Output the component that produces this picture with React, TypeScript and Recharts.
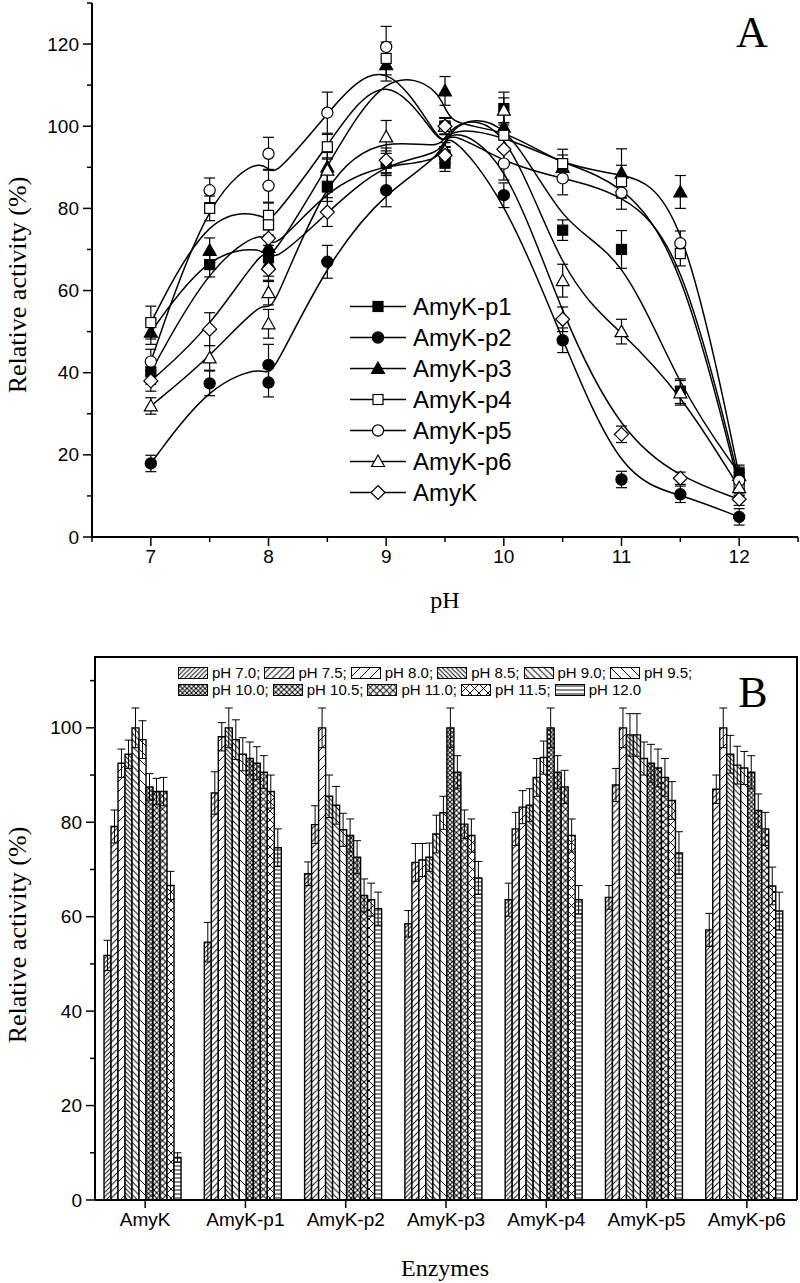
import React from "react";
import { Bar, BarChart, ComposedChart, ErrorBar, Line, Scatter, XAxis, YAxis } from "recharts";

const SANS = "'Liberation Sans', Arial, sans-serif";
const SERIF = "'Liberation Serif', 'Times New Roman', serif";

// ---------- panel A: pH profiles (two buffers overlap at pH 8.0 and 9.5)
const PH_POINTS = [7, 7.5, 8, 8, 8.5, 9, 9.5, 9.5, 10, 10.5, 11, 11.5, 12];

const P1_ACT = [40.2, 66.3, 76.0, 68.0, 85.2, 91.0, 91.0, 100, 104.3, 74.7, 70.0, 35.5, 15.5];
const P1_ERR = [3.0, 3.0, 3.0, 3.0, 3.5, 3.0, 2.0, 2.0, 4.0, 2.5, 4.6, 3.0, 2.0];
const P2_ACT = [17.9, 37.4, 41.9, 37.6, 67.0, 84.4, 93.0, 100, 83.2, 47.9, 14.0, 10.4, 4.9];
const P2_ERR = [2.0, 3.0, 5.0, 3.5, 4.0, 4.0, 2.0, 2.0, 3.0, 3.0, 2.0, 2.0, 2.0];
const P3_ACT = [49.9, 69.8, 70.5, 66.5, 90.1, 115.0, 108.6, 100, 99.8, 90.0, 88.6, 84.0, 15.0];
const P3_ERR = [3.0, 3.0, 3.0, 3.0, 3.5, 4.0, 3.5, 2.0, 3.0, 3.0, 5.9, 4.0, 2.0];
const P4_ACT = [52.2, 80.0, 78.3, 76.0, 95.0, 116.5, 93.0, 100, 97.8, 90.9, 86.5, 69.0, 12.2];
const P4_ERR = [4.0, 3.0, 3.0, 3.0, 3.0, 4.0, 2.0, 2.0, 3.0, 3.5, 4.0, 3.0, 2.0];
const P5_ACT = [42.7, 84.4, 93.3, 85.5, 103.3, 119.3, 93.0, 100, 90.9, 87.3, 83.8, 71.5, 13.7];
const P5_ERR = [3.0, 3.0, 4.0, 4.0, 5.0, 5.0, 2.0, 2.0, 4.0, 4.0, 4.0, 3.0, 2.0];
const P6_ACT = [31.9, 43.6, 59.5, 51.9, 89.3, 97.4, 94.0, 100, 103.9, 62.4, 50.0, 35.1, 12.0];
const P6_ERR = [2.0, 3.0, 3.0, 3.5, 3.0, 4.0, 2.0, 2.0, 3.0, 4.0, 3.0, 3.0, 2.0];
const WT_ACT = [38.0, 50.6, 72.7, 65.2, 79.1, 91.7, 92.9, 100, 94.4, 53.0, 25.0, 14.3, 9.2];
const WT_ERR = [2.5, 4.0, 3.0, 3.0, 3.5, 3.0, 2.0, 2.0, 3.0, 3.0, 2.0, 1.5, 1.5];

const A_X_TICKS = [6.5, 7, 7.5, 8, 8.5, 9, 9.5, 10, 10.5, 11, 11.5, 12, 12.5];
const A_Y_TICKS = [0, 10, 20, 30, 40, 50, 60, 70, 80, 90, 100, 110, 120, 130];

type MarkerKind = "square" | "circle" | "triangle" | "diamond";

const SERIES_A: { name: string; act: number[]; err: number[]; kind: MarkerKind; filled: boolean }[] = [
	{ name: "AmyK-p1", act: P1_ACT, err: P1_ERR, kind: "square", filled: true },
	{ name: "AmyK-p2", act: P2_ACT, err: P2_ERR, kind: "circle", filled: true },
	{ name: "AmyK-p3", act: P3_ACT, err: P3_ERR, kind: "triangle", filled: true },
	{ name: "AmyK-p4", act: P4_ACT, err: P4_ERR, kind: "square", filled: false },
	{ name: "AmyK-p5", act: P5_ACT, err: P5_ERR, kind: "circle", filled: false },
	{ name: "AmyK-p6", act: P6_ACT, err: P6_ERR, kind: "triangle", filled: false },
	{ name: "AmyK", act: WT_ACT, err: WT_ERR, kind: "diamond", filled: false },
];

// ---------- panel B: activity per enzyme, grouped by pH
const ENZYMES = ["AmyK", "AmyK-p1", "AmyK-p2", "AmyK-p3", "AmyK-p4", "AmyK-p5", "AmyK-p6"];
const PH_LABELS = ["pH 7.0", "pH 7.5", "pH 8.0", "pH 8.5", "pH 9.0", "pH 9.5", "pH 10.0", "pH 10.5", "pH 11.0", "pH 11.5", "pH 12.0"];

const PH70 = [51.8, 54.6, 69.1, 58.5, 63.6, 64.1, 57.2];
const PH75 = [79.1, 86.2, 79.5, 71.5, 78.6, 87.9, 87.0];
const PH80 = [92.5, 98.1, 100, 72.0, 83.2, 100, 100];
const PH85 = [94.4, 100, 85.5, 72.6, 83.6, 98.5, 94.4];
const PH90 = [100, 97.5, 83.6, 77.5, 89.5, 98.5, 92.1];
const PH95 = [97.5, 94.4, 78.4, 82.0, 93.7, 93.5, 91.5];
const PH100 = [87.5, 93.5, 77.2, 100, 100, 92.5, 90.6];
const PH105 = [86.5, 92.5, 72.6, 90.6, 90.6, 91.5, 82.5];
const PH110 = [86.5, 90.6, 64.5, 79.6, 87.5, 89.5, 78.6];
const PH115 = [66.6, 86.5, 63.6, 77.2, 77.2, 84.6, 66.5];
const PH120 = [9.0, 74.6, 61.7, 68.2, 63.6, 73.5, 61.2];

const PH70_ERR = [3.2, 4.2, 2.5, 2.8, 3.5, 2.5, 3.5];
const PH75_ERR = [3.5, 4.5, 4.0, 4.0, 3.5, 3.5, 3.0];
const PH80_ERR = [3.0, 3.0, 4.2, 3.5, 3.5, 4.2, 4.2];
const PH85_ERR = [3.0, 4.2, 4.5, 3.0, 3.5, 4.5, 4.0];
const PH90_ERR = [4.2, 4.2, 4.0, 4.0, 4.0, 4.5, 4.0];
const PH95_ERR = [4.0, 3.5, 3.5, 3.5, 3.5, 3.5, 3.5];
const PH100_ERR = [2.8, 3.5, 3.5, 4.2, 4.2, 4.0, 3.5];
const PH105_ERR = [2.8, 3.5, 3.5, 3.5, 3.5, 4.0, 3.5];
const PH110_ERR = [3.0, 3.5, 3.5, 3.0, 3.5, 4.0, 3.5];
const PH115_ERR = [3.0, 3.5, 3.5, 3.5, 3.5, 4.0, 4.0];
const PH120_ERR = [1.0, 4.0, 3.5, 3.5, 3.0, 4.5, 4.0];

const B_Y_TICKS = [0, 10, 20, 30, 40, 50, 60, 70, 80, 90, 100, 110];

const SERIES_B = [
	{ values: PH70, errors: PH70_ERR, pattern: "pd1" },
	{ values: PH75, errors: PH75_ERR, pattern: "pd2" },
	{ values: PH80, errors: PH80_ERR, pattern: "pd3" },
	{ values: PH85, errors: PH85_ERR, pattern: "pb1" },
	{ values: PH90, errors: PH90_ERR, pattern: "pb2" },
	{ values: PH95, errors: PH95_ERR, pattern: "pb3" },
	{ values: PH100, errors: PH100_ERR, pattern: "px1" },
	{ values: PH105, errors: PH105_ERR, pattern: "px2" },
	{ values: PH110, errors: PH110_ERR, pattern: "px3" },
	{ values: PH115, errors: PH115_ERR, pattern: "px4" },
	{ values: PH120, errors: PH120_ERR, pattern: "ph" },
];

const barData = ENZYMES.map((name, i) => {
	const row: Record<string, string | number> = { name };
	SERIES_B.forEach((s, j) => {
		row[`v${j}`] = s.values[i];
		row[`e${j}`] = s.errors[i];
	});
	return row;
});

// hatch fills, roughly like the Origin ones
function Hatch({ id, gap, fwd, back, horiz }: { id: string; gap: number; fwd?: boolean; back?: boolean; horiz?: boolean }) {
	const g = gap;
	const sw = 0.95;
	return (
		<pattern id={id} patternUnits="userSpaceOnUse" width={g} height={g}>
			<rect width={g} height={g} fill="#fff" />
			{fwd && <path d={`M0,${g} L${g},0 M-1,1 L1,-1 M${g - 1},${g + 1} L${g + 1},${g - 1}`} stroke="#000" strokeWidth={sw} />}
			{back && <path d={`M0,0 L${g},${g} M-1,${g - 1} L1,${g + 1} M${g - 1},-1 L${g + 1},1`} stroke="#000" strokeWidth={sw} />}
			{horiz && <path d={`M0,${g / 2} L${g},${g / 2}`} stroke="#000" strokeWidth={sw} />}
		</pattern>
	);
}

function PatternDefs() {
	return (
		<svg width={0} height={0} style={{ position: "absolute" }}>
			<defs>
				<Hatch id="pd1" gap={4.5} fwd />
				<Hatch id="pd2" gap={6.5} fwd />
				<Hatch id="pd3" gap={10} fwd />
				<Hatch id="pb1" gap={4.5} back />
				<Hatch id="pb2" gap={6.5} back />
				<Hatch id="pb3" gap={10} back />
				<Hatch id="px1" gap={4.5} fwd back />
				<Hatch id="px2" gap={5.5} fwd back />
				<Hatch id="px3" gap={6.5} fwd back />
				<Hatch id="px4" gap={9} fwd back />
				<Hatch id="ph" gap={4} horiz />
			</defs>
		</svg>
	);
}

function Marker({ kind, filled, cx, cy }: { kind: MarkerKind; filled: boolean; cx: number; cy: number }) {
	const style = { fill: filled ? "#000" : "#fff", stroke: "#000", strokeWidth: 1.2 };
	if (kind === "square") return <rect x={cx - 5} y={cy - 5} width={10} height={10} {...style} />;
	if (kind === "circle") return <circle cx={cx} cy={cy} r={5.6} {...style} />;
	if (kind === "triangle")
		return <polygon points={`${cx},${cy - 6.5} ${cx + 6.5},${cy + 5} ${cx - 6.5},${cy + 5}`} {...style} />;
	return <polygon points={`${cx},${cy - 7} ${cx + 7},${cy} ${cx},${cy + 7} ${cx - 7},${cy}`} {...style} />;
}

const yTick = (labelX: number) => (props: any) => {
	const { x, y, payload } = props;
	const v = payload.value as number;
	const major = v % 20 === 0 && v <= 120;
	return (
		<g>
			<line x1={x} x2={x - (major ? 9 : 5)} y1={y} y2={y} stroke="#000" strokeWidth={1.5} />
			{major && (
				<text x={x - labelX} y={y} textAnchor="end" dominantBaseline="central" fontFamily={SANS} fontSize={19} fill="#000">
					{v}
				</text>
			)}
		</g>
	);
};

const xTickA = (props: any) => {
	const { x, y, payload } = props;
	const v = payload.value as number;
	const major = Number.isInteger(v);
	return (
		<g>
			<line x1={x} x2={x} y1={y} y2={y + (major ? 9 : 5)} stroke="#000" strokeWidth={1.5} />
			{major && (
				<text x={x} y={y + 12} textAnchor="middle" dominantBaseline="hanging" fontFamily={SANS} fontSize={19} fill="#000">
					{v}
				</text>
			)}
		</g>
	);
};

const xTickB = (props: any) => {
	const { x, y, payload } = props;
	return (
		<g>
			<line x1={x} x2={x} y1={y} y2={y + 8} stroke="#000" strokeWidth={1.5} />
			<text x={x} y={y + 12} textAnchor="middle" dominantBaseline="hanging" fontFamily={SANS} fontSize={19} fill="#000">
				{payload.value}
			</text>
		</g>
	);
};

function VText({ cx, cy, children }: { cx: number; cy: number; children: React.ReactNode }) {
	return (
		<div
			style={{
				position: "absolute",
				left: cx,
				top: cy,
				transform: "translate(-50%, -50%) rotate(-90deg)",
				whiteSpace: "nowrap",
				fontFamily: SERIF,
				fontSize: 26,
				lineHeight: 1,
			}}
		>
			{children}
		</div>
	);
}

function CText({ cx, cy, size, children }: { cx: number; cy: number; size: number; children: React.ReactNode }) {
	return (
		<div
			style={{
				position: "absolute",
				left: cx,
				top: cy,
				transform: "translate(-50%, -50%)",
				whiteSpace: "nowrap",
				fontFamily: SERIF,
				fontSize: size,
				lineHeight: 1,
			}}
		>
			{children}
		</div>
	);
}

const frame = { stroke: "#000", strokeWidth: 2 };

function PanelA() {
	return (
		<ComposedChart width={800} height={620} margin={{ top: 3, right: 2, bottom: 0, left: 0 }}>
			<XAxis
				dataKey="x"
				type="number"
				domain={[6.5, 12.5]}
				ticks={A_X_TICKS}
				interval={0}
				tickSize={0}
				tickMargin={0}
				tickLine={false}
				tick={xTickA}
				axisLine={frame}
				height={83}
				allowDataOverflow
			/>
			<XAxis xAxisId="top" orientation="top" type="number" domain={[6.5, 12.5]} tick={false} tickLine={false} axisLine={frame} height={0} />
			<YAxis
				dataKey="y"
				type="number"
				domain={[0, 130]}
				ticks={A_Y_TICKS}
				interval={0}
				tickSize={0}
				tickMargin={0}
				tickLine={false}
				tick={yTick(13)}
				axisLine={frame}
				width={92}
				allowDataOverflow
			/>
			<YAxis yAxisId="right" orientation="right" type="number" domain={[0, 130]} tick={false} tickLine={false} axisLine={frame} width={0} />
			{SERIES_A.map((s) => (
				<Line
					key={`l-${s.name}`}
					data={PH_POINTS.map((x, i) => ({ x, y: s.act[i] }))}
					dataKey="y"
					type="basis"
					stroke="#000"
					strokeWidth={1.5}
					dot={false}
					activeDot={false}
					isAnimationActive={false}
				/>
			))}
			{SERIES_A.map((s) => (
				<Scatter
					key={`s-${s.name}`}
					name={s.name}
					data={PH_POINTS.map((x, i) => ({ x, y: s.act[i], err: s.err[i] }))}
					dataKey="y"
					isAnimationActive={false}
					shape={(p: any) => <Marker kind={s.kind} filled={s.filled} cx={p.cx} cy={p.cy} />}
				>
					<ErrorBar dataKey="err" direction="y" width={5.5} stroke="#000" strokeWidth={1.2} />
				</Scatter>
			))}
		</ComposedChart>
	);
}

function LegendA() {
	return (
		<div style={{ position: "absolute", left: 350, top: 291 }}>
			{SERIES_A.map((s) => (
				<div key={s.name} style={{ display: "flex", alignItems: "center", height: 31 }}>
					<svg width={58} height={31}>
						<line x1={0} y1={15.5} x2={56} y2={15.5} stroke="#000" strokeWidth={1.5} />
						<Marker kind={s.kind} filled={s.filled} cx={28} cy={15.5} />
					</svg>
					<span style={{ fontFamily: SANS, fontSize: 24, marginLeft: 5, lineHeight: "31px" }}>{s.name}</span>
				</div>
			))}
		</div>
	);
}

function PanelB() {
	return (
		<BarChart
			width={800}
			height={643}
			data={barData}
			margin={{ top: 17, right: 3, bottom: 0, left: 0 }}
			barGap={0}
			barCategoryGap="9%"
		>
			<XAxis
				dataKey="name"
				interval={0}
				tickSize={0}
				tickMargin={0}
				tickLine={false}
				tick={xTickB}
				axisLine={frame}
				height={83}
			/>
			<YAxis
				type="number"
				domain={[0, 115]}
				ticks={B_Y_TICKS}
				interval={0}
				tickSize={0}
				tickMargin={0}
				tickLine={false}
				tick={yTick(13)}
				axisLine={frame}
				width={95}
				allowDataOverflow
			/>
			{SERIES_B.map((s, j) => (
				<Bar
					key={PH_LABELS[j]}
					name={PH_LABELS[j]}
					dataKey={`v${j}`}
					fill={`url(#${s.pattern})`}
					stroke="#000"
					strokeWidth={1.4}
					isAnimationActive={false}
				>
					<ErrorBar dataKey={`e${j}`} direction="y" width={4} stroke="#000" strokeWidth={1} />
				</Bar>
			))}
		</BarChart>
	);
}

function LegendB() {
	const rows = [SERIES_B.slice(0, 6), SERIES_B.slice(6)];
	let k = 0;
	return (
		<div style={{ position: "absolute", left: 178, top: 664, width: 600 }}>
			{rows.map((row, r) => (
				<div key={r} style={{ display: "flex", alignItems: "center", height: 17 }}>
					{row.map((s) => {
						const idx = k++;
						const label = PH_LABELS[idx] + (idx < PH_LABELS.length - 1 ? ";" : "");
						return (
							<div key={idx} style={{ display: "flex", alignItems: "center", marginRight: 4, flexShrink: 0 }}>
								<svg width={30} height={12}>
									<rect x={0.5} y={0.5} width={29} height={11} fill={`url(#${s.pattern})`} stroke="#000" strokeWidth={1} />
								</svg>
								<span style={{ fontFamily: SANS, fontSize: 15, marginLeft: 4, lineHeight: "17px" }}>{label}</span>
							</div>
						);
					})}
				</div>
			))}
		</div>
	);
}

export default function App() {
	return (
		<div style={{ position: "absolute", left: 0, top: 0, width: 800, height: 1283, background: "#fff", overflow: "hidden" }}>
			<PatternDefs />
			<div style={{ position: "absolute", left: 0, top: 0 }}>
				<PanelA />
			</div>
			<LegendA />
			<VText cx={18} cy={285}>Relative activity (%)</VText>
			<CText cx={445} cy={600} size={24}>pH</CText>
			<CText cx={752} cy={33} size={44}>A</CText>

			<div style={{ position: "absolute", left: 0, top: 640 }}>
				<PanelB />
			</div>
			{/* top and right edges of the panel B frame */}
			<svg width={800} height={1283} style={{ position: "absolute", left: 0, top: 0, zIndex: 5, pointerEvents: "none" }}>
				<polyline points="95,1200 95,657 797,657 797,1200" fill="none" stroke="#000" strokeWidth={2} />
			</svg>
			<LegendB />
			<VText cx={18} cy={935}>Relative activity (%)</VText>
			<CText cx={445} cy={1268} size={24}>Enzymes</CText>
			<CText cx={753} cy={693} size={44}>B</CText>
		</div>
	);
}
